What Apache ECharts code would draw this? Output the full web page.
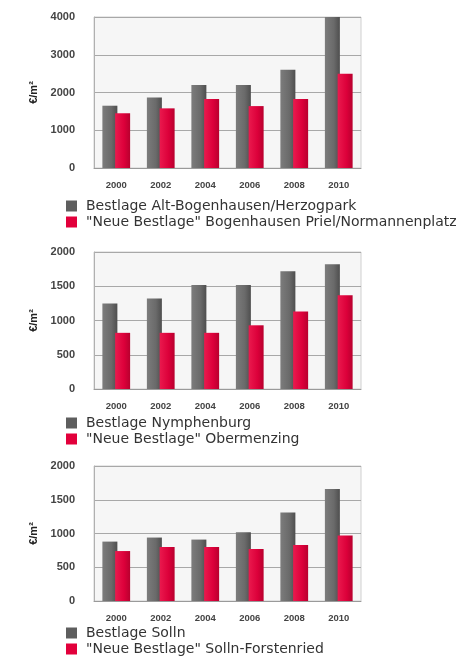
<!DOCTYPE html>
<html><head><meta charset="utf-8">
<script src="https://cdn.jsdelivr.net/npm/echarts@6/dist/echarts.min.js"></script>
<style>html,body{margin:0;padding:0;background:#fff}#c{width:459px;height:656px}</style>
</head><body><div id="c"></div>
<script>
const years = ['2000','2002','2004','2006','2008','2010'];
const names1 = ['Bestlage Alt-Bogenhausen/Herzogpark','"Neue Bestlage" Bogenhausen Priel/Normannenplatz'];
const gray1 = [1650, 1870, 2200, 2200, 2600, 4000];
const red1  = [1450, 1580, 1830, 1640, 1830, 2500];
const names2 = ['Bestlage Nymphenburg','"Neue Bestlage" Obermenzing'];
const gray2 = [1250, 1320, 1520, 1520, 1720, 1820];
const red2  = [820, 820, 820, 930, 1130, 1370];
const names3 = ['Bestlage Solln','"Neue Bestlage" Solln-Forstenried'];
const gray3 = [880, 940, 910, 1020, 1310, 1660];
const red3  = [740, 800, 800, 770, 830, 970];
const yTicks1 = [0, 1000, 2000, 3000, 4000];
const yTicks2 = [0, 500, 1000, 1500, 2000];

const GRAY = {type:'linear',x:0,y:0,x2:1,y2:0,colorStops:[{offset:0,color:'#7c7c7c'},{offset:0.6,color:'#6a6a6a'},{offset:1,color:'#4e4e4e'}]};
const RED = {type:'linear',x:0,y:0,x2:1,y2:0,colorStops:[{offset:0,color:'#ea1a4e'},{offset:0.6,color:'#dc003a'},{offset:1,color:'#b8002e'}]};

const chart = echarts.init(document.getElementById('c'), null, {renderer:'canvas'});
const grids = [
  {left:94, right:98, top:17, height:151},
  {left:94, right:98, top:252, height:137},
  {left:94, right:98, top:466, height:135}
];
const ticks = [yTicks1, yTicks2, yTicks2];
const allNames = [names1, names2, names3];
const data = [[gray1, red1],[gray2, red2],[gray3, red3]];
const legendTops = [199, 416, 626];
const lblFont = 'Liberation Sans, Arial, sans-serif';

const option = {
  animation:false,
  grid: grids.map(g => Object.assign({show:true, backgroundColor:'#f6f6f6', borderColor:'#d0d0d0', borderWidth:1}, g)),
  xAxis: grids.map((g,i)=>({
    type:'category', gridIndex:i, data:years,
    axisTick:{show:false},
    axisLine:{lineStyle:{color:'#9a9a9a'}},
    axisLabel:{color:'#444', fontSize:9.5, fontWeight:'bold', fontFamily:lblFont, margin:12}
  })),
  yAxis: grids.map((g,i)=>({
    type:'value', gridIndex:i, min:0, max:ticks[i][ticks[i].length-1], interval:ticks[i][1]-ticks[i][0],
    name:'€/m²', nameLocation:'middle', nameRotate:90, nameGap:50,
    nameTextStyle:{color:'#222', fontSize:11, fontWeight:'bold', fontFamily:lblFont},
    axisLine:{show:true, lineStyle:{color:'#b0b0b0'}},
    axisTick:{show:false},
    axisLabel:{color:'#444', fontSize:11, fontWeight:'bold', fontFamily:lblFont, margin:19, formatter:v=>String(v)},
    splitLine:{lineStyle:{color:'#a8a8a8', width:1}}
  })),
  legend: allNames.map((n,i)=>({
    data:[{name:n[0], itemStyle:{color:'#5e5e5e'}},{name:n[1], itemStyle:{color:'#e2003b'}}],
    orient:'vertical', left:66, top:legendTops[i], height:40, padding:0, itemWidth:11, itemHeight:11, itemGap:2,
    icon:'rect', selectedMode:false,
    textStyle:{color:'#333', fontSize:14, fontFamily:'DejaVu Sans, sans-serif', padding:[0,0,0,4]}
  })),
  series: []
};
data.forEach((d,i)=>{
  option.series.push({name:allNames[i][0], type:'bar', xAxisIndex:i, yAxisIndex:i, data:d[0], barWidth:15, barGap:'-15%',
    itemStyle:{color:GRAY}, z:2});
  option.series.push({name:allNames[i][1], type:'bar', xAxisIndex:i, yAxisIndex:i, data:d[1], barWidth:15, barGap:'-15%',
    itemStyle:{color:RED}, z:3});
});
chart.setOption(option);
</script>
</body></html>
